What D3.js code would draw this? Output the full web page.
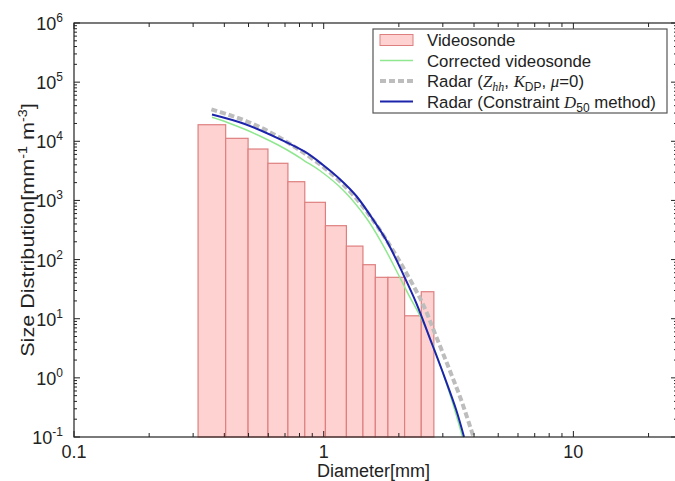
<!DOCTYPE html>
<html>
<head>
<meta charset="utf-8">
<script src="https://cdn.jsdelivr.net/npm/d3@7"></script>
<style>
  body { margin: 0; background: #fff; }
  svg { display: block; font-family: "Liberation Sans", Arial, sans-serif; }
</style>
</head>
<body>
<svg id="chart" width="675" height="481"></svg>
<script>
// histogram of the videosonde (bin edges in mm, counts in mm^-1 m^-3)
var binEdges = [0.314, 0.405, 0.498, 0.598, 0.719, 0.840, 1.016, 1.233, 1.436, 1.610, 1.808, 2.109, 2.459, 2.762];
var videosonde = [19050, 11220, 7400, 4245, 2073, 929, 374, 169, 81.9, 50.1, 50.1, 11.2, 28.6];

// curves: [diameter mm, N]
var corrected = [[0.357, 25440], [0.414, 20620], [0.483, 15940], [0.563, 11950], [0.657, 8650], [0.766, 5977],
  [0.840, 4640], [0.964, 3205], [1.195, 1501], [1.482, 504], [1.727, 176], [2.014, 50.7], [2.208, 23.6],
  [2.443, 10.7], [2.737, 3.59], [3.192, 0.554], [3.598, 0.1]];
var radarZK = [[0.355, 34740], [0.413, 28370], [0.483, 22460], [0.565, 16770], [0.655, 12040], [0.766, 8006],
  [0.840, 6216], [0.991, 3746], [1.159, 2130], [1.351, 1078], [1.575, 467], [1.837, 176], [2.109, 66.6],
  [2.496, 17.7], [2.824, 4.96], [3.192, 1.36], [3.553, 0.422], [3.981, 0.1]];
var radarD50 = [[0.357, 28370], [0.483, 19600], [0.657, 11230], [0.840, 6664], [0.994, 3972], [1.159, 2302],
  [1.351, 1188], [1.600, 432], [1.798, 198], [2.089, 54.7], [2.349, 18.4], [2.655, 4.8], [3.048, 1.03],
  [3.395, 0.286], [3.648, 0.1]];

var xTickLabels = [0.1, 1, 10];
var yTickExps = [-1, 0, 1, 2, 3, 4, 5, 6];

var svg = d3.select("#chart");
var mLeft = 74, mRight = 677, mTop = 23, mBottom = 437;

var x = d3.scaleLog().domain([0.1, 26]).range([mLeft, mRight]);
var y = d3.scaleLog().domain([0.1, 1e6]).range([mBottom, mTop]);

var plot = svg.append("g");

// bars
plot.selectAll("rect.bar")
  .data(videosonde)
  .enter().append("rect")
  .attr("class", "bar")
  .attr("x", function(d, i) { return x(binEdges[i]); })
  .attr("width", function(d, i) { return x(binEdges[i + 1]) - x(binEdges[i]); })
  .attr("y", function(d) { return y(d); })
  .attr("height", function(d) { return y(0.1) - y(d); })
  .attr("fill", "#ffd2d2")
  .attr("stroke", "#de7f7f")
  .attr("stroke-width", 1.2);

var line = d3.line()
  .x(function(d) { return x(d[0]); })
  .y(function(d) { return y(d[1]); })
  .curve(d3.curveCatmullRom);

plot.append("path").attr("d", line(corrected))
  .attr("fill", "none").attr("stroke", "#8fe88f").attr("stroke-width", 1.5);
plot.append("path").attr("d", line(radarZK))
  .attr("fill", "none").attr("stroke", "#bdbdbd").attr("stroke-width", 4)
  .attr("stroke-dasharray", "6,3");
plot.append("path").attr("d", line(radarD50))
  .attr("fill", "none").attr("stroke", "#1c24ac").attr("stroke-width", 2);

// frame and ticks (inward, all four sides)
var axisColor = "#222";
svg.append("rect")
  .attr("x", mLeft).attr("y", mTop)
  .attr("width", mRight - mLeft).attr("height", mBottom - mTop)
  .attr("fill", "none").attr("stroke", axisColor).attr("stroke-width", 1.2);

var xTicks = x.ticks().filter(function(d) { return d >= 0.1 && d <= 26; });
xTicks.forEach(function(t) {
  var major = Math.abs(Math.log10(t) - Math.round(Math.log10(t))) < 1e-9;
  var len = major ? 6 : 4;
  svg.append("line").attr("x1", x(t)).attr("x2", x(t)).attr("y1", mBottom).attr("y2", mBottom - len)
    .attr("stroke", axisColor);
  svg.append("line").attr("x1", x(t)).attr("x2", x(t)).attr("y1", mTop).attr("y2", mTop + len)
    .attr("stroke", axisColor);
});

var yTicks = y.ticks();
yTicks.forEach(function(t) {
  var major = Math.abs(Math.log10(t) - Math.round(Math.log10(t))) < 1e-9;
  var len = major ? 6 : 3;
  svg.append("line").attr("x1", mLeft).attr("x2", mLeft + len).attr("y1", y(t)).attr("y2", y(t))
    .attr("stroke", axisColor);
  svg.append("line").attr("x1", mRight).attr("x2", mRight - len).attr("y1", y(t)).attr("y2", y(t))
    .attr("stroke", axisColor);
});

// x tick labels
svg.selectAll("text.xlab")
  .data(xTickLabels)
  .enter().append("text")
  .attr("class", "xlab")
  .attr("x", function(d) { return x(d); })
  .attr("y", 458)
  .attr("text-anchor", "middle")
  .attr("font-size", 18)
  .attr("fill", "#222")
  .text(function(d) { return d; });

// y tick labels 10^n
var ylab = svg.selectAll("text.ylab")
  .data(yTickExps)
  .enter().append("text")
  .attr("class", "ylab")
  .attr("x", 63)
  .attr("y", function(d) { return y(Math.pow(10, d)) + 7; })
  .attr("text-anchor", "end")
  .attr("font-size", 18)
  .attr("fill", "#222");
ylab.append("tspan").text("10");
ylab.append("tspan").attr("dy", -8).attr("font-size", 12).text(function(d) { return d; });

// axis titles
svg.append("text")
  .attr("x", (mLeft + mRight) / 2 - 2)
  .attr("y", 477)
  .attr("text-anchor", "middle")
  .attr("font-size", 18)
  .attr("fill", "#222")
  .text("Diameter[mm]");

var yt = svg.append("text")
  .attr("transform", "translate(34," + ((mTop + mBottom) / 2) + ") rotate(-90) scale(1.2,1)")
  .attr("text-anchor", "middle")
  .attr("font-size", 18)
  .attr("fill", "#222");
yt.append("tspan").text("Size Distribution[mm");
yt.append("tspan").attr("dy", -7).attr("font-size", 12).text("-1");
yt.append("tspan").attr("dy", 7).text(" m");
yt.append("tspan").attr("dy", -7).attr("font-size", 12).text("-3");
yt.append("tspan").attr("dy", 7).text("]");

// legend
var lg = svg.append("g");
lg.append("rect")
  .attr("x", 373).attr("y", 29).attr("width", 294).attr("height", 84)
  .attr("fill", "#fff").attr("stroke", "#555").attr("stroke-width", 1.2);

var rowY = [40, 60.5, 81, 101.5];
lg.append("rect").attr("x", 380).attr("y", rowY[0] - 5.5).attr("width", 33).attr("height", 11)
  .attr("fill", "#ffd2d2").attr("stroke", "#de7f7f");
lg.append("line").attr("x1", 380).attr("x2", 413).attr("y1", rowY[1]).attr("y2", rowY[1])
  .attr("stroke", "#8fe88f").attr("stroke-width", 1.5);
lg.append("line").attr("x1", 380).attr("x2", 413).attr("y1", rowY[2]).attr("y2", rowY[2])
  .attr("stroke", "#bdbdbd").attr("stroke-width", 4).attr("stroke-dasharray", "6,3");
lg.append("line").attr("x1", 380).attr("x2", 413).attr("y1", rowY[3]).attr("y2", rowY[3])
  .attr("stroke", "#1c24ac").attr("stroke-width", 2);

function legText(i) {
  return lg.append("text").attr("x", 427).attr("y", rowY[i] + 6)
    .attr("font-size", 16.8).attr("fill", "#222");
}
var serif = "'Liberation Serif', serif";
legText(0).text("Videosonde");
legText(1).text("Corrected videosonde");
var t2 = legText(2);
t2.append("tspan").text("Radar (");
t2.append("tspan").attr("font-family", serif).attr("font-style", "italic").text("Z");
t2.append("tspan").attr("font-family", serif).attr("font-style", "italic")
  .attr("font-size", 12).attr("dy", 4).text("hh");
t2.append("tspan").attr("dy", -4).text(", ");
t2.append("tspan").attr("font-family", serif).attr("font-style", "italic").text("K");
t2.append("tspan").attr("font-size", 12).attr("dy", 4).text("DP");
t2.append("tspan").attr("dy", -4).text(", ");
t2.append("tspan").attr("font-family", serif).attr("font-style", "italic").text("\u03bc");
t2.append("tspan").text("=0)");
var t3 = legText(3);
t3.append("tspan").text("Radar (Constraint ");
t3.append("tspan").attr("font-family", serif).attr("font-style", "italic").text("D");
t3.append("tspan").attr("font-size", 12).attr("dy", 4).text("50");
t3.append("tspan").attr("dy", -4).text(" method)");
</script>
</body>
</html>
